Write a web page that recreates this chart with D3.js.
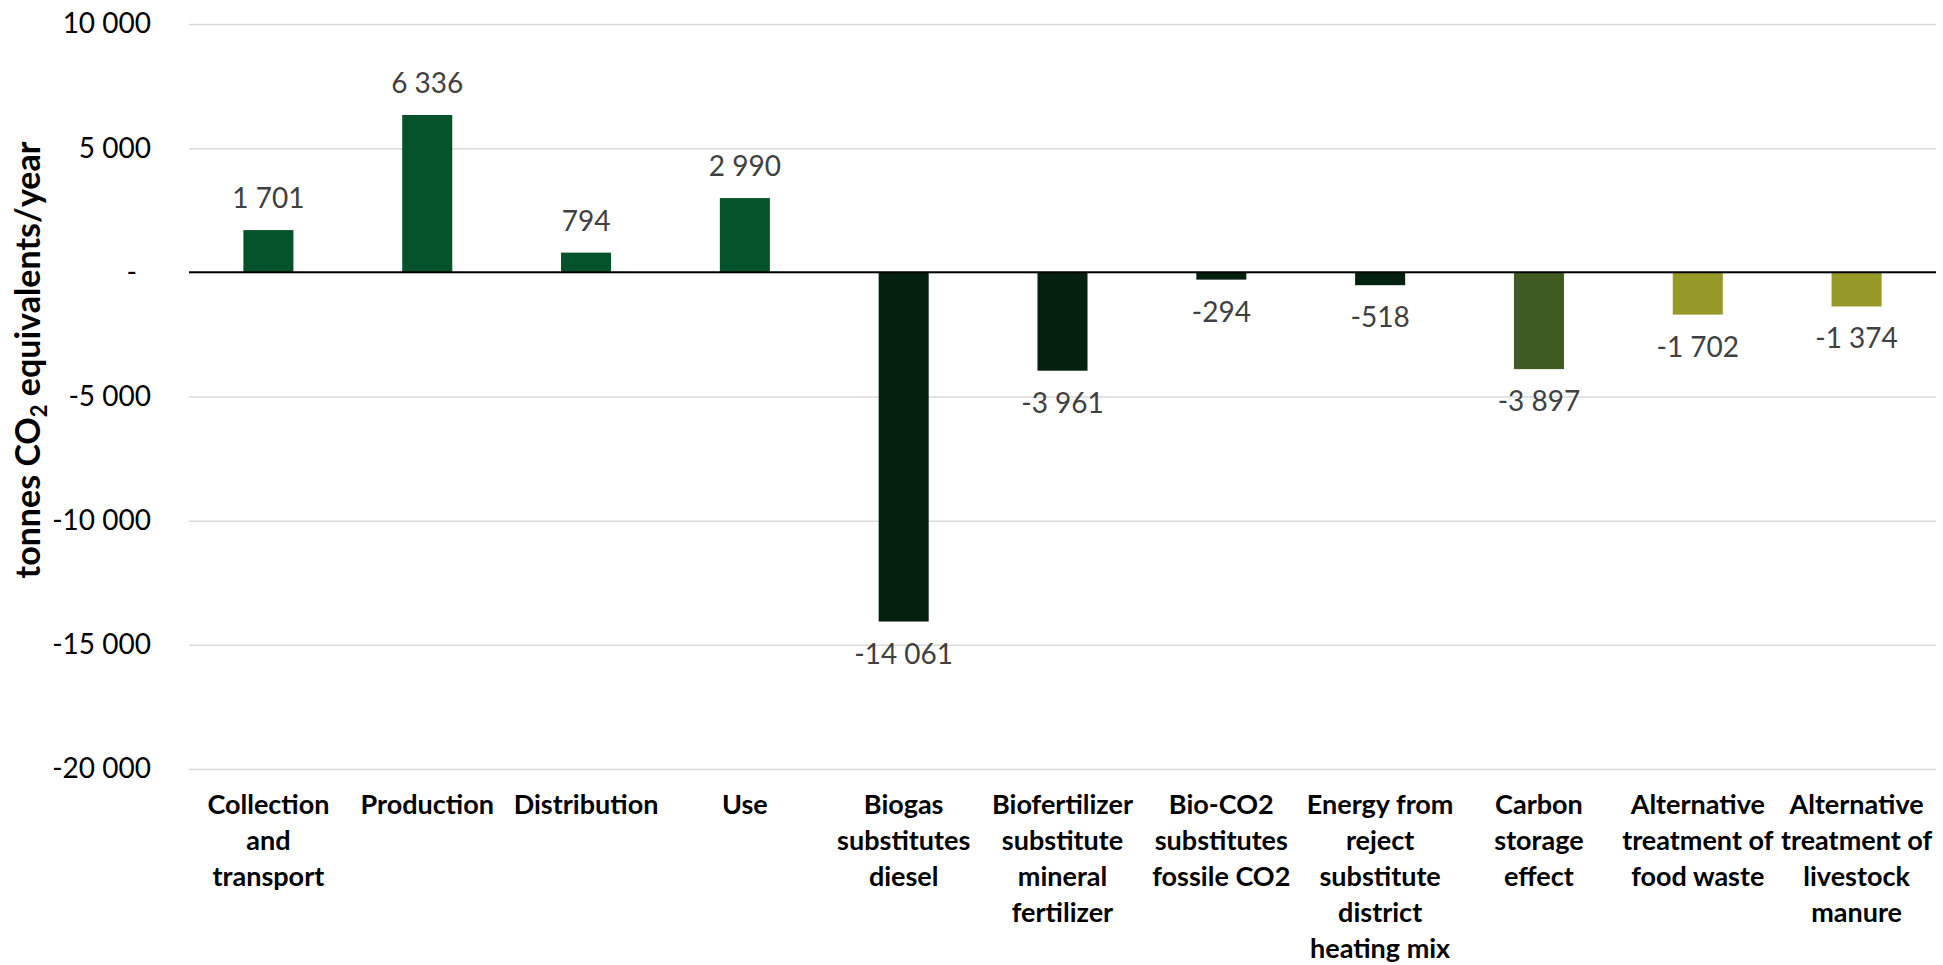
<!DOCTYPE html>
<html>
<head>
<meta charset="utf-8">
<script src="https://cdn.jsdelivr.net/npm/d3@7"></script>
<style>
  html, body { margin: 0; padding: 0; background: #fff; }
  text { font-family: Lato, "Open Sans", sans-serif; }
</style>
</head>
<body>
<script>
// data
var categories = [
  "Collection\nand\ntransport",
  "Production",
  "Distribution",
  "Use",
  "Biogas\nsubstitutes\ndiesel",
  "Biofertilizer\nsubstitute\nmineral\nfertilizer",
  "Bio-CO2\nsubstitutes\nfossile CO2",
  "Energy from\nreject\nsubstitute\ndistrict\nheating mix",
  "Carbon\nstorage\neffect",
  "Alternative\ntreatment of\nfood waste",
  "Alternative\ntreatment of\nlivestock\nmanure"
];
var values = [1701, 6336, 794, 2990, -14061, -3961, -294, -518, -3897, -1702, -1374];
var groups = ["emission", "emission", "emission", "emission",
              "avoided", "avoided", "avoided", "avoided",
              "storage", "alternative", "alternative"];
var yTicks = [10000, 5000, 0, -5000, -10000, -15000, -20000];

var colors = {
  emission: "#03522a",
  avoided: "#04200f",
  storage: "#405b21",
  alternative: "#969827"
};

var width = 1943,
    height = 965;

var svg = d3.select("body").append("svg")
    .attr("width", width)
    .attr("height", height);

var x = d3.scaleBand()
    .domain(d3.range(categories.length))
    .range([189, 1936])
    .padding(0);

var y = d3.scaleLinear()
    .domain([-20000, 10000])
    .range([769, 24]);

var fmt = function(v) {
  var s = d3.format(",")(Math.abs(v)).replace(/,/g, " ");
  return (v < 0 ? "-" : "") + s;
};

// gridlines + tick labels
var yAxis = d3.axisLeft(y)
    .tickValues(yTicks)
    .tickSize(-(1936 - 189))
    .tickPadding(38)
    .tickFormat(function(d) { return d === 0 ? "-" : fmt(d); });

var gy = svg.append("g")
    .attr("transform", "translate(189,0)")
    .call(yAxis);
gy.select(".domain").remove();
gy.selectAll(".tick line")
    .attr("stroke", "#d9d9d9")
    .attr("stroke-width", 1.5);
gy.selectAll(".tick text")
    .attr("fill", "#000")
    .style("font-size", "28px")
    .attr("dx", function(d) { return d === 0 ? -14 : 0; });

// bars
var barW = x.bandwidth() * 0.315;
svg.selectAll(".bar")
    .data(values)
    .enter()
    .append("rect")
    .attr("class", "bar")
    .attr("x", function(d, i) { return x(i) + x.bandwidth() / 2 - barW / 2; })
    .attr("y", function(d) { return y(Math.max(0, d)); })
    .attr("width", barW)
    .attr("height", function(d) { return Math.abs(y(d) - y(0)); })
    .attr("fill", function(d, i) { return colors[groups[i]]; });

// zero line
svg.append("line")
    .attr("x1", 189)
    .attr("x2", 1936)
    .attr("y1", y(0))
    .attr("y2", y(0))
    .attr("stroke", "#000")
    .attr("stroke-width", 2);

// data labels
svg.selectAll(".label")
    .data(values)
    .enter()
    .append("text")
    .attr("class", "label")
    .attr("x", function(d, i) { return x(i) + x.bandwidth() / 2; })
    .attr("y", function(d) { return d >= 0 ? y(d) - 22 : y(d) + 42; })
    .attr("text-anchor", "middle")
    .attr("fill", "#404040")
    .style("font-size", "28px")
    .text(fmt);

// category labels
var cat = svg.selectAll(".cat")
    .data(categories)
    .enter()
    .append("text")
    .attr("class", "cat")
    .attr("text-anchor", "middle")
    .attr("fill", "#000")
    .style("font-size", "27px")
    .style("font-weight", "bold");

cat.each(function(d, i) {
  var t = d3.select(this);
  d.split("\n").forEach(function(line, j) {
    t.append("tspan")
      .attr("x", x(i) + x.bandwidth() / 2)
      .attr("y", 814 + j * 36)
      .text(line);
  });
});

// y axis title
var title = svg.append("text")
    .attr("transform", "translate(40,360) rotate(-90)")
    .attr("text-anchor", "middle")
    .style("font-size", "34px")
    .style("font-weight", "bold")
    .attr("fill", "#000");
title.append("tspan").text("tonnes CO");
title.append("tspan").text("2").style("font-size", "22px").attr("dy", 7);
title.append("tspan").text(" equivalents/year").attr("dy", -7);
</script>
</body>
</html>
